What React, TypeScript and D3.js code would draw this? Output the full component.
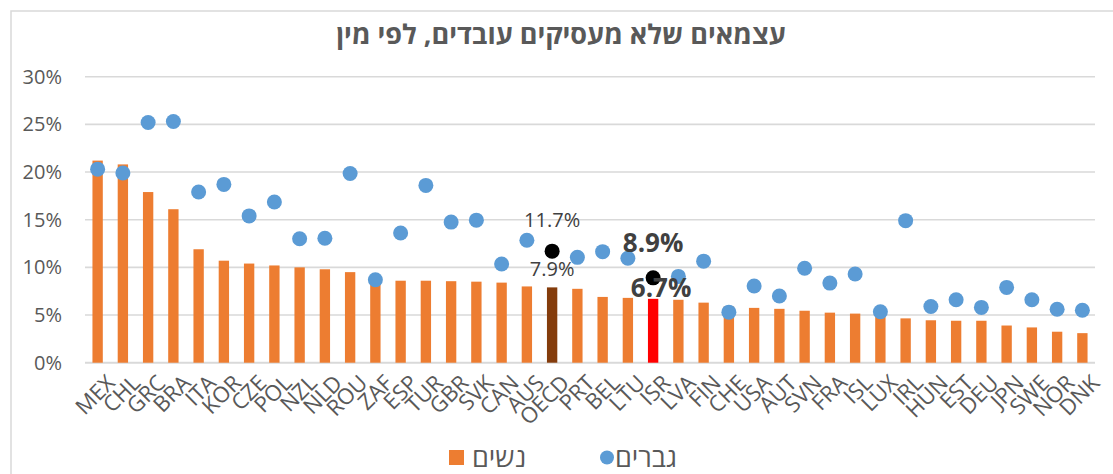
import React from "react";
import { scaleBand, scaleLinear } from "d3";

const countries = ["MEX", "CHL", "GRC", "BRA", "ITA", "KOR", "CZE", "POL", "NZL", "NLD", "ROU", "ZAF", "ESP", "TUR", "GBR", "SVK", "CAN", "AUS", "OECD", "PRT", "BEL", "LTU", "ISR", "LVA", "FIN", "CHE", "USA", "AUT", "SVN", "FRA", "ISL", "LUX", "IRL", "HUN", "EST", "DEU", "JPN", "SWE", "NOR", "DNK"];
// נשים (bars)
const women = [21.2, 20.8, 17.9, 16.1, 11.9, 10.7, 10.4, 10.2, 10.0, 9.8, 9.5, 8.6, 8.6, 8.6, 8.55, 8.5, 8.4, 8.0, 7.9, 7.75, 6.9, 6.8, 6.7, 6.6, 6.3, 5.9, 5.75, 5.65, 5.45, 5.25, 5.15, 5.0, 4.65, 4.45, 4.4, 4.4, 3.9, 3.7, 3.25, 3.1];
// גברים (dots)
const men = [20.3, 19.9, 25.2, 25.3, 17.9, 18.7, 15.4, 16.85, 13.0, 13.05, 19.85, 8.7, 13.6, 18.6, 14.75, 14.95, 10.35, 12.85, 11.7, 11.05, 11.65, 10.95, 8.9, 9.05, 10.65, 5.3, 8.05, 7.0, 9.9, 8.35, 9.3, 5.35, 14.9, 5.9, 6.6, 5.8, 7.9, 6.6, 5.6, 5.5];
const yTicks = [0, 5, 10, 15, 20, 25, 30];

const title = "עצמאים שלא מעסיקים עובדים, לפי מין";
const legendWomen = "נשים";
const legendMen = "גברים";

const W = 1113;
const H = 474;
const font = "'Open Sans', 'DejaVu Sans', sans-serif";
const textColor = "#595959";

export default function App() {
  const x = scaleBand<string>()
    .domain(countries)
    .range([85, 1095])
    .paddingInner(0.59)
    .paddingOuter(0.295);
  const y = scaleLinear().domain([0, 30]).range([362.7, 76.7]);
  const cx = (c: string) => (x(c) as number) + x.bandwidth() / 2;

  const barColor = (c: string) =>
    c === "OECD" ? "#843C0C" : c === "ISR" ? "#FF0000" : "#ED7D31";

  const iO = countries.indexOf("OECD");
  const iI = countries.indexOf("ISR");

  return (
    <svg
      width={W}
      height={H}
      style={{ position: "absolute", left: 0, top: 0, background: "#fff" }}
      fontFamily={font}
    >
      <rect x={11} y={11} width={1110} height={480} fill="#fff" stroke="#d9d9d9" strokeWidth={1.5} />
      <text x={561} y={44} textAnchor="middle" fontSize={27} fontWeight="bold" fill={textColor}>
        {title}
      </text>

      {yTicks.map((t) => (
        <g key={t}>
          <line x1={85} x2={1095} y1={y(t)} y2={y(t)} stroke="#d9d9d9" strokeWidth={t === 0 ? 2 : 1.6} />
          <text x={62} y={y(t)} dy="0.35em" textAnchor="end" fontSize={20} fill={textColor}>
            {t}%
          </text>
        </g>
      ))}

      {countries.map((c, i) => (
        <rect
          key={c}
          x={x(c)}
          y={y(women[i])}
          width={x.bandwidth()}
          height={y(0) - y(women[i])}
          fill={barColor(c)}
        />
      ))}

      {countries.map((c, i) =>
        c === "OECD" || c === "ISR" ? null : (
          <circle key={c} cx={cx(c)} cy={y(men[i])} r={7.5} fill="#5B9BD5" />
        )
      )}
      {[iO, iI].map((i) => (
        <circle key={i} cx={cx(countries[i])} cy={y(men[i])} r={7.5} fill="#000" />
      ))}

      {/* OECD labels */}
      <text x={cx("OECD")} y={y(men[iO]) - 24} textAnchor="middle" fontSize={20} fill="#404040">
        {men[iO].toFixed(1)}%
      </text>
      <text x={cx("OECD")} y={y(women[iO]) - 11} textAnchor="middle" fontSize={20} fill="#404040">
        {women[iO].toFixed(1)}%
      </text>
      {/* ISR labels */}
      <text x={cx("ISR")} y={y(men[iI]) - 26} textAnchor="middle" fontSize={26} fontWeight="bold" fill="#404040">
        {men[iI].toFixed(1)}%
      </text>
      <text x={cx("ISR") + 8} y={y(women[iI]) - 2} textAnchor="middle" fontSize={26} fontWeight="bold" fill="#404040">
        {women[iI].toFixed(1)}%
      </text>

      {countries.map((c) => (
        <text
          key={c}
          transform={`translate(${cx(c) + 7},${y(0) + 10}) rotate(-45)`}
          textAnchor="end"
          dy="0.75em"
          fontSize={22}
          fill={textColor}
        >
          {c}
        </text>
      ))}

      {/* legend */}
      <rect x={449} y={450} width={15} height={15} fill="#ED7D31" />
      <text x={472} y={467} fontSize={27} fill={textColor}>
        {legendWomen}
      </text>
      <circle cx={607} cy={457.5} r={7} fill="#5B9BD5" />
      <text x={615} y={467} fontSize={27} fill={textColor}>
        {legendMen}
      </text>
    </svg>
  );
}
